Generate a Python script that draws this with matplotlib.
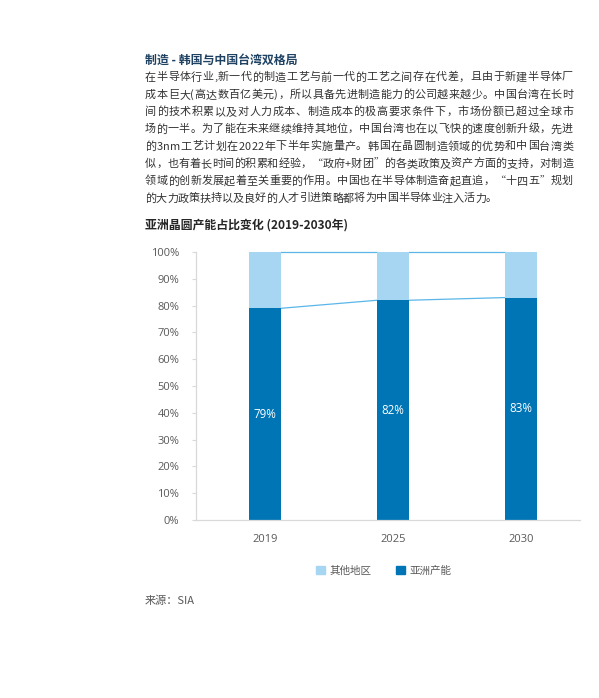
import numpy as np
import matplotlib.pyplot as plt
from matplotlib.patches import Patch
from matplotlib.font_manager import FontProperties

plt.rcParams['font.family'] = ['Noto Sans CJK SC', 'DejaVu Sans']

years = ['2019', '2025', '2030']
asia = [79, 82, 83]
other = [21, 18, 17]
series_names = ['其他地区', '亚洲产能']

heading = '制造 - 韩国与中国台湾双格局'
body = [
    '在半导体行业,新一代的制造工艺与前一代的工艺之间存在代差，且由于新建半导体厂',
    '成本巨大(高达数百亿美元)，所以具备先进制造能力的公司越来越少。中国台湾在长时',
    '间的技术积累以及对人力成本、制造成本的极高要求条件下，市场份额已超过全球市',
    '场的一半。为了能在未来继续维持其地位，中国台湾也在以飞快的速度创新升级，先进',
    '的3nm工艺计划在2022年下半年实施量产。韩国在晶圆制造领域的优势和中国台湾类',
    '似，也有着长时间的积累和经验，“政府+财团”的各类政策及资产方面的支持，对制造',
    '领域的创新发展起着至关重要的作用。中国也在半导体制造奋起直追，“十四五”规划',
    '的大力政策扶持以及良好的人才引进策略都将为中国半导体业注入活力。',
]
chart_title = '亚洲晶圆产能占比变化 (2019-2030年)'
source = '来源：SIA'

dark = '#0075b6'
light = '#a7d6f3'
line_c = '#5bb6e8'
grey = '#595959'

W, H = 599, 698
fig = plt.figure(figsize=(W / 100, H / 100), dpi=100)
renderer = fig.canvas.get_renderer()

LINE_W = 428  # justified line width in px


def advances(s, fp):
    base = renderer.get_text_width_height_descent('中中', fp, ismath=False)[0]
    return [renderer.get_text_width_height_descent('中' + c + '中', fp, ismath=False)[0] - base
            for c in s]


# pick a body size so that the longest line still fits the column
fp0 = FontProperties(family=['Noto Sans CJK SC', 'DejaVu Sans'], size=8.45)
longest = max(sum(advances(s, fp0)) for s in body[:-1])
body_fp = FontProperties(family=['Noto Sans CJK SC', 'DejaVu Sans'],
                         size=8.45 * min(1.0, (LINE_W - 1) / longest))


def put_line(s, x0, y, width=None):
    # one text per character so the line can be justified like the page
    adv = advances(s, body_fp)
    gap = 0.0
    if width is not None:
        gap = max((width - sum(adv)) / (len(s) - 1), 0.0)
    xpos = x0
    for c, w in zip(s, adv):
        fig.text(xpos / W, 1 - y / H, c, fontproperties=body_fp,
                 color='#333333', va='center', ha='left')
        xpos += w + gap


# text block above the chart
fig.text(145 / W, 1 - 60 / H, heading, fontsize=8.6, fontweight='bold',
         color='#1f4263', va='center', ha='left')
for i, line in enumerate(body):
    y = 77.3 + i * 17.3
    put_line(line, 145, y, None if i == len(body) - 1 else LINE_W)
fig.text(145 / W, 1 - 225 / H, chart_title, fontsize=8.6, fontweight='bold',
         color='#262626', va='center', ha='left')
fig.text(145 / W, 1 - 601 / H, source, fontsize=8, color=grey,
         va='center', ha='left')

ax = fig.add_axes([196 / W, 1 - 520 / H, (580 - 196) / W, (520 - 252) / H])
x = np.arange(len(years))
bw = 0.25
a = np.array(asia) / 100
o = np.array(other) / 100
ax.bar(x, a, width=bw, color=dark, zorder=2)
ax.bar(x, o, width=bw, bottom=a, color=light, zorder=2)

# series lines between bars
for i in range(len(x) - 1):
    ax.plot([x[i] + bw / 2, x[i + 1] - bw / 2], [a[i], a[i + 1]],
            color=line_c, lw=0.9, zorder=1)
    ax.plot([x[i] + bw / 2, x[i + 1] - bw / 2], [a[i] + o[i], a[i + 1] + o[i + 1]],
            color=line_c, lw=0.9, zorder=1, clip_on=False)

for xi, v in zip(x, asia):
    ax.text(xi, v / 200, f'{v}%', color='white', fontsize=8.3,
            family=['Open Sans', 'DejaVu Sans'], ha='center', va='center')

ax.set_xlim(-0.54, 2.46)
ax.set_ylim(0, 1)
ticks = np.arange(0, 1.01, 0.1)
ax.set_yticks(ticks)
ax.set_yticklabels([f'{int(round(t * 100))}%' for t in ticks])
ax.set_xticks(x)
ax.set_xticklabels(years)
ax.tick_params(axis='y', length=3, width=0.8, color='#d9d9d9', labelsize=8,
               labelcolor=grey, pad=9)
ax.tick_params(axis='x', length=0, labelsize=8, labelcolor=grey, pad=10)
for lab in ax.get_xticklabels() + ax.get_yticklabels():
    lab.set_family(['Open Sans', 'DejaVu Sans'])
for s in ['top', 'right']:
    ax.spines[s].set_visible(False)
for s in ['left', 'bottom']:
    ax.spines[s].set_color('#d9d9d9')
    ax.spines[s].set_linewidth(0.9)

handles = [Patch(color=light), Patch(color=dark)]
fig.legend(handles, series_names, loc='center', ncol=2, frameon=False,
           bbox_to_anchor=(384 / W, 1 - 571 / H), fontsize=7.6,
           labelcolor=grey, handlelength=0.8, handleheight=0.8,
           handletextpad=0.5, columnspacing=2.3)

fig.savefig('out.png', dpi=100)
